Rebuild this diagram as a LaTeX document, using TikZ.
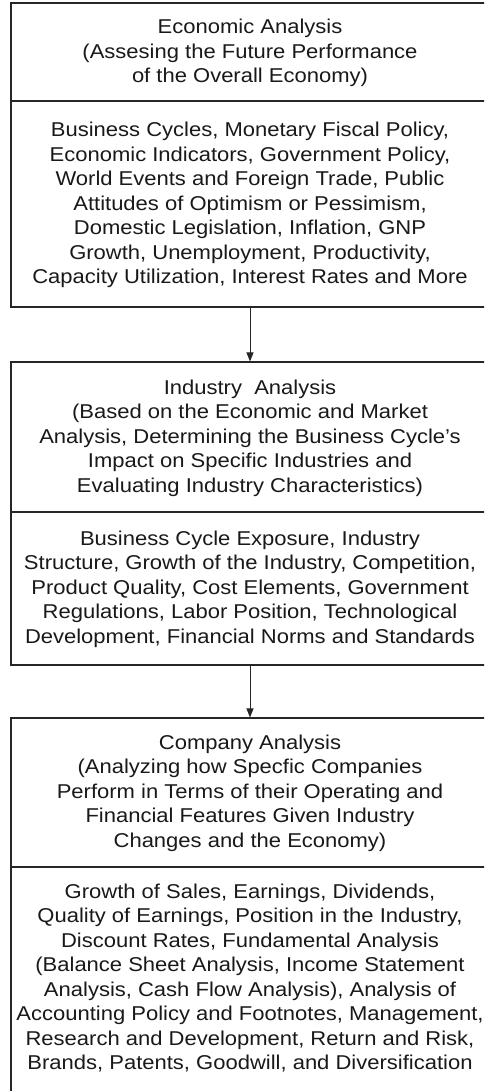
\documentclass[tikz,border=0pt]{standalone}
\usepackage{fontspec}
\setmainfont{Liberation Sans}[FakeStretch=1.1]
\usetikzlibrary{arrows.meta}
\tikzset{
  box/.style={draw=black!85, line width=1.1pt, rectangle, inner sep=0pt, minimum width=478pt},
  txt/.style={align=center, inner sep=0pt, text=black!90, font=\fontsize{20}{24.5}\selectfont},
  sep/.style={draw=black!85, line width=1.1pt},
  conn/.style={draw=black!85, line width=1pt, -{Triangle[length=9pt,width=7pt]}}
}
\begin{document}
\begin{tikzpicture}[x=1pt,y=-1pt]
\useasboundingbox (0,0) rectangle (484,1091);
\clip (0,0) rectangle (484,1091);
\fill[white] (0,0) rectangle (484,1091);
% box 1
\node[box, minimum height=304pt] (b1) at (250,155) {};
\node[txt] (h1) at (250,53) {Economic Analysis\\(Assesing the Future Performance\\of the Overall Economy)};
\node[txt] (d1) at (250,205) {Business Cycles, Monetary Fiscal Policy,\\Economic Indicators, Government Policy,\\World Events and Foreign Trade, Public\\Attitudes of Optimism or Pessimism,\\Domestic Legislation, Inflation, GNP\\Growth, Unemployment, Productivity,\\Capacity Utilization, Interest Rates and More};
\coordinate (s1) at (0,101);
\draw[sep] (b1.west |- s1) -- (b1.east |- s1);
% box 2
\node[box, minimum height=303pt] (b2) at (250,513.5) {};
\node[txt] (h2) at (250,438) {Industry\ \ Analysis\\(Based on the Economic and Market\\Analysis, Determining the Business Cycle's\\Impact on Specific Industries and\\Evaluating Industry Characteristics)};
\node[txt] (d2) at (250,589) {Business Cycle Exposure, Industry\\Structure, Growth of the Industry, Competition,\\Product Quality, Cost Elements, Government\\Regulations, Labor Position, Technological\\Development, Financial Norms and Standards};
\coordinate (s2) at (0,512);
\draw[sep] (b2.west |- s2) -- (b2.east |- s2);
% box 3
\node[box, minimum height=376pt] (b3) at (250,906) {};
\node[txt] (h3) at (250,793) {Company Analysis\\(Analyzing how Specfic Companies\\Perform in Terms of their Operating and\\Financial Features Given Industry\\Changes and the Economy)};
\node[txt] (d3) at (250,978) {Growth of Sales, Earnings, Dividends,\\Quality of Earnings, Position in the Industry,\\Discount Rates, Fundamental Analysis\\(Balance Sheet Analysis, Income Statement\\Analysis, Cash Flow Analysis), Analysis of\\Accounting Policy and Footnotes, Management,\\Research and Development, Return and Risk,\\Brands, Patents, Goodwill, and Diversification};
\coordinate (s3) at (0,867);
\draw[sep] (b3.west |- s3) -- (b3.east |- s3);
% connectors
\draw[conn] (b1.south) -- (b2.north);
\draw[conn] (b2.south) -- (b3.north);
\end{tikzpicture}
\end{document}
